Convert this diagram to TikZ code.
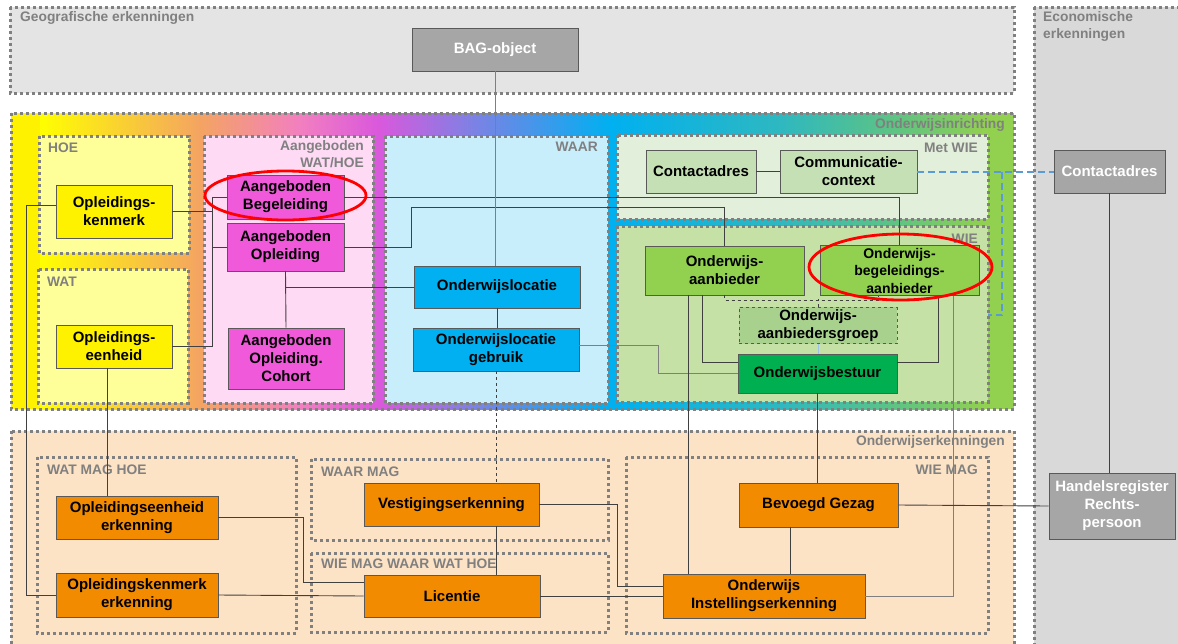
\documentclass[tikz,border=0pt]{standalone}
\usepackage{fontspec}
\setmainfont{Liberation Sans}
\definecolor{geogray}{HTML}{E4E4E4}
\definecolor{ecogray}{HTML}{D9D9D9}
\definecolor{dotgray}{HTML}{808080}
\definecolor{boxline}{HTML}{595959}
\definecolor{linegray}{HTML}{404040}
\definecolor{softline}{HTML}{7F7F7F}
\definecolor{bagray}{HTML}{A6A6A6}
\definecolor{hoebg}{HTML}{FFFF99}
\definecolor{awhbg}{HTML}{FFDAF5}
\definecolor{waarbg}{HTML}{C8EEFC}
\definecolor{metwiebg}{HTML}{E2EFDA}
\definecolor{wiebg}{HTML}{C5E1A5}
\definecolor{peach}{HTML}{FDE3C5}
\definecolor{magnode}{HTML}{F059DA}
\definecolor{bluenode}{HTML}{00B0F0}
\definecolor{palegreen}{HTML}{C5E0B4}
\definecolor{greennode}{HTML}{92D050}
\definecolor{groepgreen}{HTML}{A9D18E}
\definecolor{darkgreen}{HTML}{00B050}
\definecolor{orangenode}{HTML}{F28B00}
\definecolor{dashblue}{HTML}{5B9BD5}
\definecolor{bandorange}{HTML}{F4A462}
\definecolor{bandpink}{HTML}{F27FC0}
\definecolor{bandmagenta}{HTML}{DA58DC}
\definecolor{bandpurple}{HTML}{8080E4}
\definecolor{bandteal}{HTML}{2EB8C0}
\definecolor{bandmint}{HTML}{60C480}
\begin{document}
\begin{tikzpicture}[
      x=1pt, y=-1pt,
      box/.style={rectangle, draw=boxline, line width=0.9pt, inner sep=2pt, align=center,
          font=\fontsize{15}{18}\selectfont\bfseries},
      grp/.style={draw=dotgray, line width=3pt, dash pattern=on 3pt off 3pt},
      lbl/.style={text=dotgray, inner sep=0pt, font=\fontsize{13.8}{17}\selectfont\bfseries},
      conn/.style={draw=linegray, line width=0.9pt},
      soft/.style={draw=softline, line width=0.9pt},
      blueline/.style={draw=dashblue, line width=2pt, dash pattern=on 7pt off 4pt},
      ring/.style={draw=red, line width=2.8pt}
    ]
    \useasboundingbox (0,0) rectangle (1178,643);
    \clip (0,0) rectangle (1178,643);

    \fill[white] (0,0) rectangle (1178,643);
    \filldraw[grp, fill=geogray] (10,7) rectangle (1014,93);
    \filldraw[grp, fill=ecogray] (1034,7) rectangle (1195,660);
    \node[lbl, anchor=west] (geolbl) at (20,18) {Geografische erkenningen};
    \node[lbl, anchor=north west, align=left] (ecolbl) at (1043,11) {Economische\\erkenningen};

    \fill[yellow] (11,113) rectangle (40,409);
    \shade[left color=yellow, right color=bandorange] (40,113) rectangle (200,409);
    \shade[left color=bandorange, right color=bandpink] (199.5,113) rectangle (300,409);
    \shade[left color=bandpink, right color=bandmagenta] (299.5,113) rectangle (378,409);
    \shade[left color=bandmagenta, right color=bandpurple] (377.5,113) rectangle (470,409);
    \shade[left color=bandpurple, right color=bluenode] (469.5,113) rectangle (610,409);
    \shade[left color=bluenode, right color=bandteal] (609.5,113) rectangle (780,409);
    \shade[left color=bandteal, right color=bandmint] (779.5,113) rectangle (900,409);
    \shade[left color=bandmint, right color=greennode] (899.5,113) rectangle (985,409);
    \fill[greennode] (984.5,113) rectangle (1014,409);
    \draw[grp] (11,113) rectangle (1014,409);
    \node[lbl, anchor=east] (inrlbl) at (1005,125) {Onderwijsinrichting};

    \filldraw[grp, fill=hoebg] (39,136) rectangle (189,253);
    \filldraw[grp, fill=hoebg] (38,269) rectangle (188,403);
    \filldraw[grp, fill=awhbg] (204,136) rectangle (373,403);
    \filldraw[grp, fill=waarbg] (385,136) rectangle (608,403);
    \filldraw[grp, fill=metwiebg] (617,135) rectangle (988,219);
    \filldraw[grp, fill=wiebg] (617,226) rectangle (988,402);
    \node[lbl, anchor=west] (hoelbl) at (48,148) {HOE};
    \node[lbl, anchor=west] (watlbl) at (47,282) {WAT};
    \node[lbl, anchor=north east, align=right] (awhlbl) at (364,140) {Aangeboden\\WAT/HOE};
    \node[lbl, anchor=east] (waarlbl) at (598,147) {WAAR};
    \node[lbl, anchor=east] (metwielbl) at (978,148) {Met WIE};
    \node[lbl, anchor=east] (wielbl) at (978,239) {WIE};

    \filldraw[grp, fill=peach] (11,431) rectangle (1014,660);
    \draw[grp] (37,457) rectangle (296,633);
    \draw[grp] (311,459) rectangle (608,540);
    \draw[grp] (311,553) rectangle (608,632);
    \draw[grp] (626,457) rectangle (988,633);
    \node[lbl, anchor=east] (erklbl) at (1005,442) {Onderwijserkenningen};
    \node[lbl, anchor=west] (wmhlbl) at (47,470) {WAT MAG HOE};
    \node[lbl, anchor=west] (waarmaglbl) at (321,472) {WAAR MAG};
    \node[lbl, anchor=west] (wmwlbl) at (321,564) {WIE MAG WAAR WAT HOE};
    \node[lbl, anchor=east] (wiemaglbl) at (978,470) {WIE MAG};

    \node[box, fill=bagray, text=white, minimum width=166, minimum height=43] (bag) at (495,49.5) {BAG-object};
    \node[box, fill=yellow, minimum width=116, minimum height=53] (kenmerk) at (114,211.5) {Opleidings-\\kenmerk};
    \node[box, fill=yellow, minimum width=116, minimum height=43] (eenheid) at (114,346.5) {Opleidings-\\eenheid};
    \node[box, fill=magnode, minimum width=117, minimum height=44] (begel) at (285.5,197) {Aangeboden\\Begeleiding};
    \node[box, fill=magnode, minimum width=117, minimum height=48] (opl) at (285.5,247) {Aangeboden\\Opleiding};
    \node[box, fill=magnode, minimum width=116, minimum height=61] (cohort) at (286,358.5) {Aangeboden\\Opleiding.\\Cohort};
    \node[box, fill=bluenode, minimum width=166, minimum height=42] (locatie) at (497,287) {Onderwijslocatie};
    \node[box, fill=bluenode, minimum width=166, minimum height=43] (gebruik) at (496,349.5) {Onderwijslocatie\\gebruik};
    \node[box, fill=palegreen, minimum width=110, minimum height=43] (contact) at (701,171.5) {Contactadres};
    \node[box, fill=palegreen, minimum width=137, minimum height=43] (comm) at (848.5,171.5) {Communicatie-\\context};
    \node[box, fill=greennode, minimum width=159, minimum height=49] (aanb) at (724.5,270.5) {Onderwijs-\\aanbieder};
    \node[box, fill=greennode, minimum width=159, minimum height=49,
      font=\fontsize{14}{17.5}\selectfont\bfseries] (begaanb) at (899.5,270.5) {Onderwijs-\\begeleidings-\\aanbieder};
    \node[box, fill=groepgreen, dashed, minimum width=158, minimum height=35] (groep) at (818,325.5) {Onderwijs-\\aanbiedersgroep};
    \node[box, fill=darkgreen, minimum width=159, minimum height=39] (bestuur) at (817.5,373.5) {Onderwijsbestuur};
    \node[box, fill=bagray, text=white, minimum width=111, minimum height=43] (contactkvk) at (1109.5,171.5) {Contactadres};
    \node[box, fill=bagray, text=white, minimum width=126, minimum height=66] (handels) at (1112,506) {Handelsregister\\Rechts-\\persoon};
    \node[box, fill=orangenode, minimum width=162, minimum height=43] (oee) at (137,517.5) {Opleidingseenheid\\erkenning};
    \node[box, fill=orangenode, minimum width=162, minimum height=44] (oke) at (137,595) {Opleidingskenmerk\\erkenning};
    \node[box, fill=orangenode, minimum width=175, minimum height=43] (vest) at (451.5,504.5) {Vestigingserkenning};
    \node[box, fill=orangenode, minimum width=176, minimum height=42] (lic) at (452,596) {Licentie};
    \node[box, fill=orangenode, minimum width=159, minimum height=44] (bev) at (818.5,505) {Bevoegd Gezag};
    \node[box, fill=orangenode, minimum width=202, minimum height=44] (oie) at (764,596) {Onderwijs\\Instellingserkenning};

    \draw[conn] (kenmerk.east) -- ++(41,0);
    \draw[conn] (begel.west) -- ++(-14,0) |- (eenheid.east);
    \draw[conn] (opl.west) -- ++(-14,0);
    \draw[conn] ([yshift=6pt]kenmerk.west) -- ++(-29,0) |- (oke.west);
    \draw[conn] ([xshift=-7pt]eenheid.south) -- ([xshift=-7pt]eenheid.south |- oee.north);
    \draw[conn] (begel.east) -| (begaanb.north);
    \draw[conn] (opl.east) -- ++(67,0) |- ([yshift=38pt]aanb.north) -- (aanb.north);
    \draw[conn] (opl.south) -- (cohort.north);
    \draw[conn] (locatie.west) -- (locatie.west -| opl.south);
    \draw[soft] (bag.south) -- (bag.south |- locatie.north);
    \draw[conn] (locatie.south) -- (locatie.south |- gebruik.north);
    \draw[conn, dashed] (gebruik.south) -- (gebruik.south |- vest.north);
    \draw[conn] ([xshift=44.5pt]vest.south) -- ([xshift=44.5pt]vest.south |- lic.north);
    \draw[soft] ([yshift=4.5pt]gebruik.east) -- ++(79,0) |- (bestuur.west);
    \draw[conn] (contact.east) -- (comm.west);
    \draw[blueline] (comm.east) -- (contactkvk.west);
    \draw[blueline] ([xshift=85pt]comm.east) |- ++(-14,143.5);
    \draw[conn] (contactkvk.south) -- (contactkvk.south |- handels.north);
    \draw[conn] ([xshift=-36.5pt]aanb.south) -- ([xshift=-36.5pt]aanb.south |- oie.north);
    \draw[conn] ([xshift=-22.5pt]aanb.south) |- ([yshift=11.5pt]bestuur.west);
    \draw[conn, dashed] (aanb.south) -- ++(0,5) -| ([xshift=-21.5pt]begaanb.south);
    \draw[conn, dashed] (groep.north) -- ++(0,-8);
    \draw[draw=dashblue!60, line width=0.6pt] (groep.south) -- (groep.south |- bestuur.north);
    \draw[conn] ([xshift=38.5pt]begaanb.south) |- ([yshift=11.5pt]bestuur.east);
    \draw[soft] ([xshift=53.5pt]begaanb.south) |- (oie.east);
    \draw[conn] (bestuur.south) -- (bestuur.south |- bev.north);
    \draw[conn] ([xshift=-28.5pt]bev.south) -- ([xshift=-28.5pt]bev.south |- oie.north);
    \draw[conn] (bev.east) -- (handels.west);
    \draw[conn] (oee.east) -- ++(85,0) |- ([yshift=14pt]lic.west);
    \draw[conn] (oke.east) -- (lic.west);
    \draw[conn] (vest.east) -- ++(78,0) |- ([yshift=10pt]oie.west);
    \draw[conn] (lic.east) -- (oie.west);

    \draw[ring] (285.5,195.5) ellipse [x radius=80.5, y radius=24.5];
    \draw[ring] (900.5,267) ellipse [x radius=91.5, y radius=33];
  \end{tikzpicture}
\end{document}
